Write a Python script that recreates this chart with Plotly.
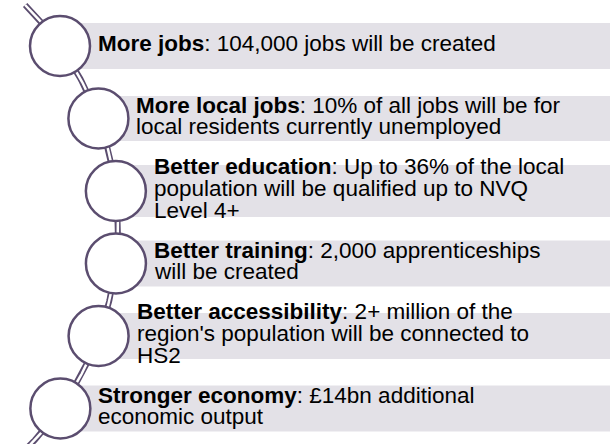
import numpy as np
import plotly.graph_objects as go

# ---- content ----
titles = ["More jobs", "More local jobs", "Better education",
          "Better training", "Better accessibility", "Stronger economy"]
bodies = [
    [": 104,000 jobs will be created"],
    [": 10% of all jobs will be for", "local residents currently unemployed"],
    [": Up to 36% of the local", "population will be qualified up to NVQ", "Level 4+"],
    [": 2,000 apprenticeships", "will be created"],
    [": 2+ million of the", "region's population will be connected to", "HS2"],
    [": £14bn additional", "economic output"],
]

# ---- layout parameters (pixels) ----
W, H = 614, 444
ARC_CX, ARC_CY, ARC_R = -195.0, 227.5, 313.0
ITEM_Y0, ITEM_STEP = 46.0, 72.5
CIRCLE_R = 30.0
RECT_H = [46, 45, 52, 46, 46, 46]
RECT_RIGHT = 610
TEXT_DX = 37
LINE_GAP = 21.8
FONT_SIZE = 22.5
PURPLE = "#5b4d6f"
RECT_FILL = "#e3e1e7"
FONT = "Liberation Sans, Arial, sans-serif"

def arc_x(y):
    return ARC_CX + np.sqrt(ARC_R ** 2 - (y - ARC_CY) ** 2)

fig = go.Figure()

# curved double line
ys = np.linspace(5, 455, 300)
xs = arc_x(ys)
fig.add_trace(go.Scatter(x=xs, y=ys, mode="lines", line=dict(color=PURPLE, width=6),
                         hoverinfo="skip", showlegend=False))
fig.add_trace(go.Scatter(x=xs, y=ys, mode="lines", line=dict(color="white", width=2.5),
                         hoverinfo="skip", showlegend=False))

shapes = []
annotations = []
for i, (t, body) in enumerate(zip(titles, bodies)):
    cy = ITEM_Y0 + i * ITEM_STEP
    cx = float(arc_x(cy))
    h = RECT_H[i]
    shapes.append(dict(type="rect", xref="x", yref="y", x0=cx, x1=RECT_RIGHT,
                       y0=cy - h / 2, y1=cy + h / 2, fillcolor=RECT_FILL,
                       line=dict(width=0), layer="above"))
    shapes.append(dict(type="circle", xref="x", yref="y", x0=cx - CIRCLE_R, x1=cx + CIRCLE_R,
                       y0=cy - CIRCLE_R, y1=cy + CIRCLE_R, fillcolor="white",
                       line=dict(color=PURPLE, width=2.5), layer="above"))
    n = len(body)
    for j, line in enumerate(body):
        txt = ("<b>%s</b>" % t + line) if j == 0 else line
        ly = cy - 2.5 + (j - (n - 1) / 2) * LINE_GAP
        annotations.append(dict(x=cx + TEXT_DX, y=ly, xref="x", yref="y", text=txt,
                                showarrow=False, xanchor="left", yanchor="middle",
                                borderpad=0,
                                font=dict(family=FONT, size=FONT_SIZE, color="black")))

fig.update_layout(
    width=W, height=H, margin=dict(l=0, r=0, t=0, b=0),
    paper_bgcolor="white", plot_bgcolor="white",
    xaxis=dict(range=[0, W], visible=False, fixedrange=True),
    yaxis=dict(range=[H, 0], visible=False, fixedrange=True),
    shapes=shapes, annotations=annotations, showlegend=False,
)
fig.write_html("out.html", config={"displayModeBar": False},
               post_script="document.body.style.margin='0px';document.body.style.overflow='hidden';")
